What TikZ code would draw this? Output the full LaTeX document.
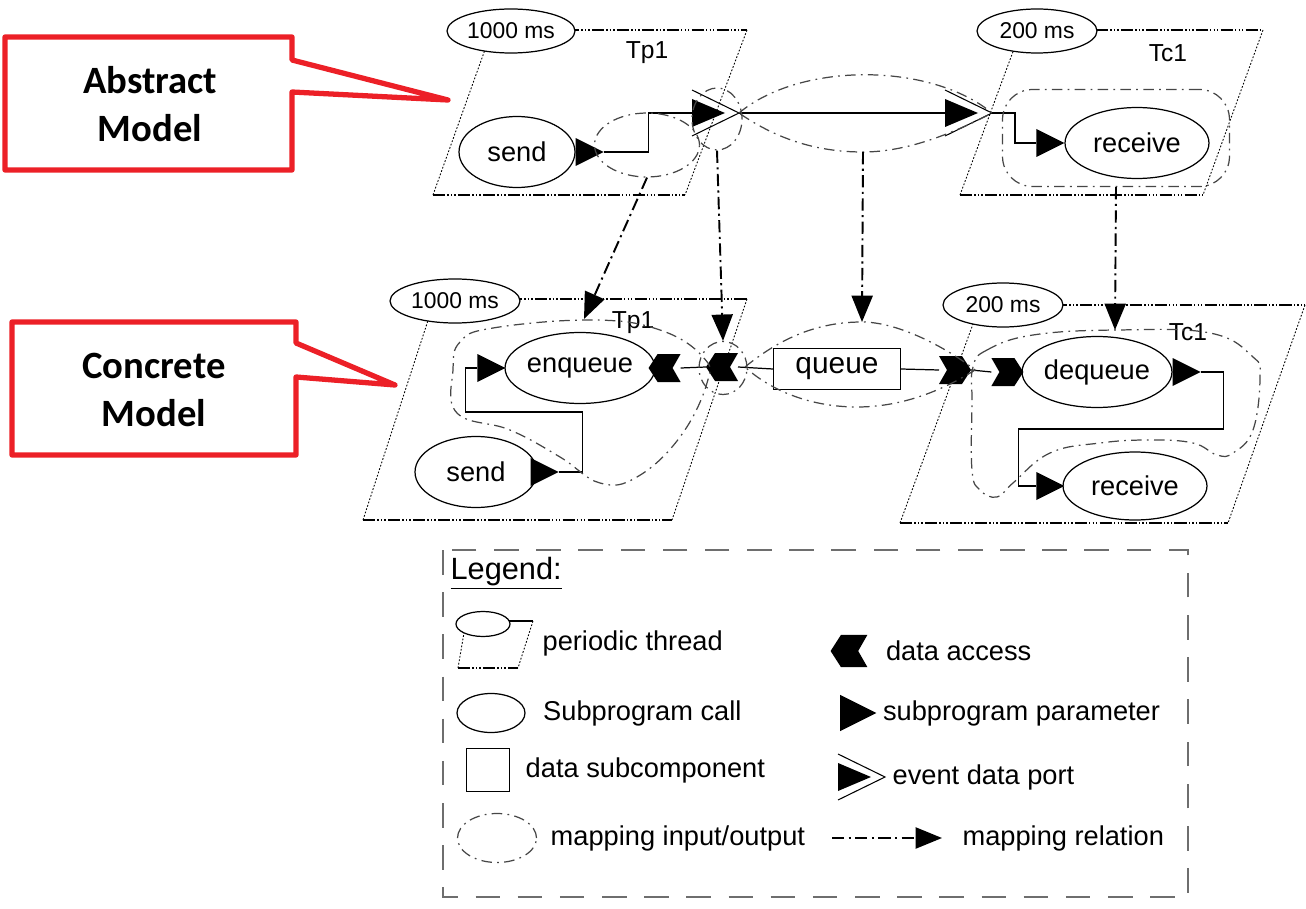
\documentclass[tikz,border=0pt]{standalone}
\usepackage{fontspec}
\setmainfont{Liberation Sans}
\newfontfamily\calloutfont{Carlito}
\usetikzlibrary{arrows.meta, positioning, calc, shapes.geometric}

\definecolor{calloutred}{RGB}{236,32,39}
\definecolor{mapgray}{RGB}{70,70,70}
\definecolor{framegray}{RGB}{110,110,110}

\begin{document}
\begin{tikzpicture}[
        x=0.02cm, y=-0.02cm,
        line width=0.7pt,
        period/.style={
            draw, ellipse, fill=white, inner sep=0,
            minimum width=2.56cm, minimum height=0.88cm,
            font=\fontsize{13}{15}\selectfont
        },
        call/.style={
            draw, ellipse, inner sep=0,
            minimum height=1.42cm,
            font=\fontsize{15.5}{18}\selectfont
        },
        threadname/.style={font=\fontsize{14}{16}\selectfont},
        threadside/.style={line width=0.5pt, dash pattern=on 1pt off 1pt},
        threadbase/.style={
            line width=0.7pt,
            dash pattern=on 7pt off 1.2pt on 0.8pt off 1.2pt on 0.8pt off 1.2pt on 0.8pt off 1.2pt
        },
        mapblob/.style={draw=mapgray, line width=0.7pt, dash pattern=on 6pt off 3pt on 1pt off 3pt},
        maparrow/.style={
            line width=1.1pt,
            dash pattern=on 7pt off 2.5pt on 1.2pt off 2.5pt,
            -{Triangle[length=15pt, width=12pt]}
        },
        callout/.style={draw=calloutred, line width=3pt, line join=round},
        callouttext/.style={font=\calloutfont\bfseries\fontsize{22}{27}\selectfont, align=center},
        legtext/.style={inner sep=0, font=\fontsize{15.5}{18}\selectfont},
        legframe/.style={draw=framegray, line width=0.6pt, dash pattern=on 14pt off 10pt},
        pics/param/.style={code={
            \fill (0,-14) -- (28,0) -- (0,14) -- cycle;
            \coordinate (-base) at (0,0);
            \coordinate (-tip) at (28,0);
        }},
        pics/evport/.style={code={
            \fill (0,-14) -- (33,0) -- (0,14) -- cycle;
            \draw[line width=0.6pt] (0,-23) -- (47,0) -- (0,23);
            \coordinate (-base) at (0,0);
            \coordinate (-tip) at (47,0);
        }},
        pics/access/.style={code={
            \fill (-16,0) -- (-7,-14) -- (16,-14) -- (8,0) -- (16,14) -- (-7,14) -- cycle;
            \coordinate (-tip) at (-16,0);
            \coordinate (-back) at (16,0);
        }}
    ]

    \useasboundingbox (0,0) rectangle (1306,909);

    % Callouts
    \draw[callout] (5,37) -- (292,37) -- (292,60) -- (448,100) -- (292,92)
        -- (292,170) -- (5,170) -- cycle;
    \node[callouttext] (absCallout) at (150,104) {Abstract\\Model};

    \draw[callout] (12,322) -- (296,322) -- (296,343) -- (395,385) -- (296,377)
        -- (296,455) -- (12,455) -- cycle;
    \node[callouttext] (conCallout) at (154,390) {Concrete\\Model};

    % Abstract model: thread Tp1
    \coordinate (tpA-nw) at (492,30);
    \coordinate (tpA-ne) at (747,30);
    \coordinate (tpA-se) at (685,195);
    \coordinate (tpA-sw) at (433,195);
    \draw[threadbase] (tpA-nw) -- (tpA-ne);
    \draw[threadbase] (tpA-sw) -- (tpA-se);
    \draw[threadside] (tpA-ne) -- (tpA-se);
    \draw[threadside] (tpA-sw) -- (tpA-nw);
    \node[period] (perTpA) at (511,31) {1000 ms};
    \node[threadname] (nameTpA) at (647,53) {Tp1};

    \node[call, minimum width=2.32cm] (sendA) at (517,152) {send};
    \pic (sendAp) at (sendA.east) {param};
    \pic (tpAev) at (692,113) {evport};

    % Abstract model: thread Tc1
    \coordinate (tcA-nw) at (1021,30);
    \coordinate (tcA-ne) at (1263,30);
    \coordinate (tcA-se) at (1203,195);
    \coordinate (tcA-sw) at (960,195);
    \draw[threadbase] (tcA-nw) -- (tcA-ne);
    \draw[threadbase] (tcA-sw) -- (tcA-se);
    \draw[threadside] (tcA-ne) -- (tcA-se);
    \draw[threadside] (tcA-sw) -- (tcA-nw);
    \node[period, minimum width=2.4cm] (perTcA) at (1037,31) {200 ms};
    \node[threadname] (nameTcA) at (1168,53) {Tc1};

    \pic (tcAev) at (945,113) {evport};
    \node[call, minimum width=2.88cm] (recvA) at (1137,143) {receive};
    \pic (recvAp) at ($(recvA.west)+(-28,0)$) {param};

    \draw (sendAp-tip) -- ++(45,0) |- (tpAev-base);
    \draw (tpAev-tip) -- (tcAev-base);
    \draw (tcAev-tip) -- ++(23,0) |- (recvAp-base);

    % Abstract model: mapping inputs/outputs
    \node[mapblob, ellipse, minimum width=2.1cm, minimum height=1.28cm] (mapSendA) at (647,145) {};
    \node[mapblob, ellipse, minimum width=1.0cm, minimum height=1.24cm] (mapPortA) at (717,119) {};
    \draw[mapblob] (tpAev-tip) .. controls (800,62) and (930,62) .. (tcAev-tip)
        .. controls (950,135) and (905,152) .. (863,152) coordinate (mapLinkA)
        .. controls (815,152) and (775,138) .. (tpAev-tip) -- cycle;
    \node[mapblob, rounded corners=0.6cm, minimum width=4.54cm, minimum height=1.94cm] (mapRecvA) at (1116,138) {};

    % Concrete model: thread Tp1
    \coordinate (tpB-nw) at (435,299);
    \coordinate (tpB-ne) at (747,299);
    \coordinate (tpB-se) at (672,520);
    \coordinate (tpB-sw) at (363,520);
    \draw[threadbase] (tpB-nw) -- (tpB-ne);
    \draw[threadbase] (tpB-sw) -- (tpB-se);
    \draw[threadside] (tpB-ne) -- (tpB-se);
    \draw[threadside] (tpB-sw) -- (tpB-nw);
    \node[period, minimum width=2.6cm] (perTpB) at (455,301) {1000 ms};
    \node[threadname] (nameTpB) at (633,323) {Tp1};

    \node[call, minimum width=2.72cm] (enqB) at (580,368) {enqueue};
    \pic (enqBp) at ($(enqB.west)+(-27,0)$) {param};
    \pic (enqBacc) at ($(enqB.east)+(9,0)$) {access};
    \node[call, minimum width=2.44cm] (sendB) at (476,472) {send};
    \pic (sendBp) at ($(sendB.east)+(-7,0)$) {param};
    \pic (tpBacc) at (722,367) {access};

    \draw (sendBp-tip) -- ++(24,0) -- ++(0,-60) -- ++(-117,0) |- (enqBp-base);
    \draw (enqBacc-back) -- (tpBacc-tip);

    % Concrete model: shared queue
    \node[draw, minimum width=2.54cm, minimum height=0.82cm,
        font=\fontsize{17}{20}\selectfont] (queue) at (837,369) {queue};
    \pic[xscale=-1] (qAcc) at (955,370) {access};
    \draw (tpBacc-back) -- (queue.west);
    \draw (queue.east) -- (qAcc-back);

    % Concrete model: thread Tc1
    \coordinate (tcB-nw) at (980,305);
    \coordinate (tcB-ne) at (1305,305);
    \coordinate (tcB-se) at (1228,523);
    \coordinate (tcB-sw) at (900,523);
    \draw[threadbase] (tcB-nw) -- (tcB-ne);
    \draw[threadbase] (tcB-sw) -- (tcB-se);
    \draw[threadside] (tcB-ne) -- (tcB-se);
    \draw[threadside] (tcB-sw) -- (tcB-nw);
    \node[period, minimum width=2.4cm] (perTcB) at (1003,305) {200 ms};
    \node[threadname] (nameTcB) at (1188,332) {Tc1};

    \node[call, minimum width=2.8cm] (deqB) at (1097,372) {dequeue};
    \pic[xscale=-1] (deqBacc) at ($(deqB.west)+(-14,0)$) {access};
    \pic (deqBp) at (deqB.east) {param};
    \node[call, minimum width=2.88cm, minimum height=1.36cm] (recvB) at (1135,486) {receive};
    \pic (recvBp) at ($(recvB.west)+(-26,0)$) {param};

    \draw (qAcc-tip) -- (deqBacc-back);
    \draw (deqBp-tip) -- ++(23,0) -- ++(0,57) -- ++(-205,0) |- (recvBp-base);

    % Concrete model: mapping inputs/outputs
    \draw[mapblob] plot[smooth cycle, tension=0.7] coordinates {
        (703,357) (660,330) (593,320) (493,328) (460,342) (453,370) (457,413)
        (510,430) (560,457) (600,483) (637,477) (680,437) (707,383)};
    \coordinate (mapTpB-top) at (584,319);
    \node[mapblob, ellipse, minimum width=0.96cm, minimum height=1.06cm] (mapAccB) at (723,368) {};
    \draw[mapblob] (745,367) .. controls (790,330) and (830,322) .. (862,322) coordinate (mapLinkB)
        .. controls (900,322) and (950,350) .. (975,370)
        .. controls (940,392) and (900,407) .. (857,407)
        .. controls (810,407) and (770,390) .. (745,367) -- cycle;
    \draw[mapblob] plot[smooth cycle, tension=0.7] coordinates {
        (973,367) (987,350) (1033,335) (1117,330) (1210,333) (1253,357) (1260,377)
        (1253,430) (1233,453) (1217,455) (1193,443) (1150,440) (1100,443) (1050,453)
        (1013,483) (997,497) (980,490) (972,470) (972,403)};
    \coordinate (mapTcB-top) at (1115,330);

    % Mapping relations
    \draw[maparrow] (mapSendA.south) -- (mapTpB-top);
    \draw[maparrow] (mapPortA.south) -- (mapAccB.north);
    \draw[maparrow] (mapLinkA) -- (mapLinkB);
    \draw[maparrow] (mapRecvA.south) -- (mapTcB-top);

    % Legend
    \draw[legframe] (443,550) rectangle (1188,897);
    \node[anchor=west, inner sep=0, font=\fontsize{17.5}{20}\selectfont] (legTitle) at (450,573) {\underline{Legend:}};

    \coordinate (lgThr-nw) at (466,621);
    \coordinate (lgThr-ne) at (533,621);
    \coordinate (lgThr-se) at (518,668);
    \coordinate (lgThr-sw) at (458,668);
    \draw (lgThr-nw) -- (lgThr-ne);
    \draw[threadside] (lgThr-ne) -- (lgThr-se);
    \draw[threadbase] (lgThr-sw) -- (lgThr-se);
    \draw[threadside] (lgThr-sw) -- (lgThr-nw);
    \node[period, minimum width=1.08cm, minimum height=0.5cm] (lgThr) at (483,624) {};
    \node[legtext, anchor=west] (lgThrText) at (542,643) {periodic thread};

    \node[call, minimum width=1.36cm, minimum height=0.78cm] (lgCall) at (491,713) {};
    \node[legtext, right=0.34cm of lgCall] (lgCallText) {Subprogram call};

    \node[draw, minimum size=0.86cm] (lgData) at (488,770) {};
    \node[legtext, right=0.3cm of lgData] (lgDataText) {data subcomponent};

    \node[mapblob, ellipse, minimum width=1.58cm, minimum height=0.98cm] (lgMap) at (497,838) {};
    \node[legtext, right=0.26cm of lgMap] (lgMapText) {mapping input/output};

    \pic[scale=1.15] (lgAcc) at (849,651) {access};
    \node[legtext, right=0.36cm of lgAcc-back] (lgAccText) {data access};

    \pic[scale=1.3] (lgPar) at (840,713) {param};
    \node[legtext, right=0.12cm of lgPar-tip] (lgParText) {subprogram parameter};

    \pic (lgEv) at (838,777) {evport};
    \node[legtext, right=0.14cm of lgEv-tip] (lgEvText) {event data port};

    \coordinate (lgRel-a) at (832,838);
    \coordinate (lgRel-b) at (942,838);
    \draw[maparrow] (lgRel-a) -- (lgRel-b);
    \node[legtext, right=0.4cm of lgRel-b] (lgRelText) {mapping relation};

\end{tikzpicture}
\end{document}
